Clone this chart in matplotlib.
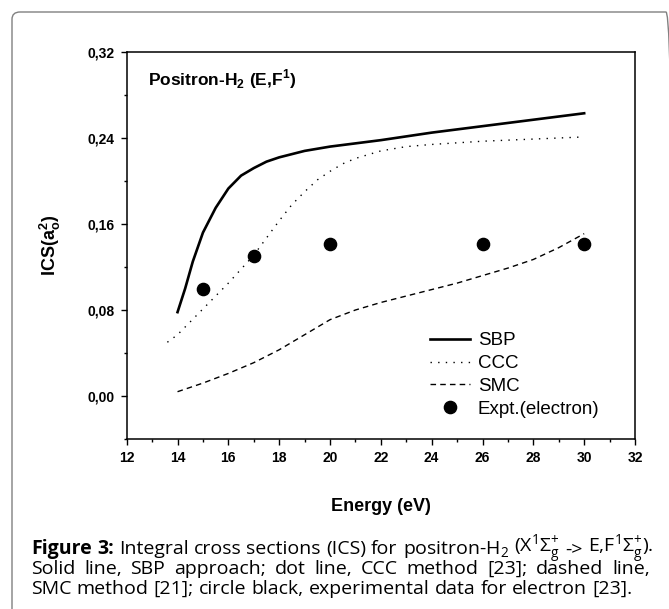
import matplotlib
matplotlib.use('Agg')
import matplotlib.pyplot as plt
from matplotlib.patches import FancyBboxPatch
from matplotlib.ticker import MultipleLocator, FuncFormatter

# values (energy in eV, ICS in a_o^2)
sbp_e = [14.0, 14.3, 14.6, 15.0, 15.5, 16.0, 16.5, 17.0, 17.5, 18.0, 19.0, 20.0, 22.0, 24.0, 26.0, 28.0, 30.0]
sbp_ics = [0.078, 0.100, 0.125, 0.152, 0.175, 0.193, 0.205, 0.212, 0.218, 0.222, 0.228, 0.232, 0.238, 0.245, 0.251, 0.257, 0.263]

ccc_e = [13.6, 14.0, 14.5, 15.0, 15.5, 16.0, 16.5, 17.0, 17.5, 18.0, 18.5, 19.0, 19.5, 20.0, 20.5, 21.0, 22.0, 23.0, 24.0, 26.0, 28.0, 30.0]
ccc_ics = [0.050, 0.057, 0.069, 0.081, 0.093, 0.105, 0.118, 0.131, 0.147, 0.163, 0.178, 0.190, 0.201, 0.209, 0.216, 0.221, 0.228, 0.232, 0.234, 0.237, 0.239, 0.241]

smc_e = [14, 15, 16, 17, 18, 19, 20, 21, 22, 23, 24, 25, 26, 27, 28, 29, 30]
smc_ics = [0.004, 0.012, 0.021, 0.031, 0.043, 0.057, 0.071, 0.080, 0.087, 0.093, 0.099, 0.105, 0.112, 0.119, 0.127, 0.138, 0.151]

expt_e = [15, 17, 20, 26, 30]
expt_ics = [0.100, 0.130, 0.141, 0.141, 0.141]

caption = [
    ['Figure', '3:', 'Integral', 'cross', 'sections', '(ICS)', 'for', 'positron-H$_{\\mathdefault{2}}$',
     '(X$^{\\mathdefault{1}}$Σ$_{\\mathdefault{g}}^{\\mathdefault{+}}$', '->',
     'E,F$^{\\mathdefault{1}}$Σ$_{\\mathdefault{g}}^{\\mathdefault{+}}$).'],
    'Solid line, SBP approach; dot line, CCC method [23]; dashed line,'.split(),
    'SMC method [21]; circle black, experimental data for electron [23].'.split(),
]

plt.rcParams['font.family'] = ['Liberation Sans', 'DejaVu Sans']
plt.rcParams['mathtext.fontset'] = 'custom'

W, H = 669, 609
fig = plt.figure(figsize=(W / 100, H / 100), dpi=100)

# rounded frame around figure + caption
frame = FancyBboxPatch((12 / W, -30 / H), 662 / W, 627 / H,
                       boxstyle='round,pad=0,rounding_size=0.012',
                       transform=fig.transFigure, fill=False,
                       edgecolor='#808080', lw=1.0)
fig.patches.append(frame)

ax = fig.add_axes([126.7 / W, 1 - 439 / H, 508.3 / W, 387 / H])

ax.plot(sbp_e, sbp_ics, color='black', lw=1.9, label='SBP')
ax.plot(ccc_e, ccc_ics, color='black', lw=1.0, ls=(0, (1, 4.5)), label='CCC')
ax.plot(smc_e, smc_ics, color='black', lw=1.0, ls=(0, (4, 3)), label='SMC')
ax.plot(expt_e, expt_ics, 'o', color='black', ms=8.8, label='Expt.(electron)')

ax.set_xlim(12, 32)
ax.set_ylim(-0.04, 0.32)
ax.xaxis.set_major_locator(MultipleLocator(2))
ax.xaxis.set_minor_locator(MultipleLocator(1))
ax.yaxis.set_major_locator(MultipleLocator(0.08))
ax.yaxis.set_minor_locator(MultipleLocator(0.04))
ax.yaxis.set_major_formatter(FuncFormatter(lambda v, p: f'{v:.2f}'.replace('.', ',').replace('-0,00', '0,00')))

for s in ax.spines.values():
    s.set_linewidth(1.1)
ax.tick_params(which='both', direction='out', top=False, right=False, width=1.0)
ax.tick_params(which='major', length=4.5, pad=4, labelsize=10)
ax.tick_params(which='minor', length=2.5)
for lab in ax.get_xticklabels() + ax.get_yticklabels():
    lab.set_fontweight('bold')

ax.set_xlabel('Energy (eV)', fontsize=13, fontweight='bold', labelpad=24)
ax.set_ylabel(r'ICS(a$_{\mathdefault{o}}^{\mathdefault{2}}$)', fontsize=13, fontweight='bold', labelpad=18)

ax.text(0.042, 0.930, r'Positron-H$_{\mathdefault{2}}$ (E,F$^{\mathdefault{1}}$)',
        transform=ax.transAxes, fontsize=12.5, fontweight='bold', va='center')

ax.legend(loc='upper left', bbox_to_anchor=(0.597, 0.276), frameon=False,
          fontsize=13.5, handlelength=2.1, handletextpad=0.45,
          labelspacing=0.3, borderpad=0, borderaxespad=0)

# caption, word by word so lines 1-2 can be justified
renderer = fig.canvas.get_renderer()
cap_font = ['Open Sans', 'DejaVu Sans']
cap_size = 14.0
x0, x1 = 31, 650
baselines = [554, 574, 594]
space = fig.text(0, 0, 'a a', fontsize=cap_size, family=cap_font)
space_w = space.get_window_extent(renderer).width - 2 * fig.text(
    0, 0, 'a', fontsize=cap_size, family=cap_font).get_window_extent(renderer).width
for t in fig.texts[:]:
    t.remove()

for i, words in enumerate(caption):
    texts = []
    for j, w in enumerate(words):
        bold = i == 0 and j < 2
        t = fig.text(0, 1 - baselines[i] / H, w, fontsize=cap_size, family=cap_font,
                     fontweight='bold' if bold else 'normal', va='baseline')
        texts.append(t)
    widths = [t.get_window_extent(renderer).width for t in texts]
    natural = sum(widths) + space_w * (len(words) - 1)
    if i < 2 and natural < x1 - x0:
        gap = (x1 - x0 - sum(widths)) / (len(words) - 1)
    else:
        gap = space_w
    x = x0
    for t, w in zip(texts, widths):
        t.set_x(x / W)
        x += w + gap

fig.savefig('out.png', dpi=100)
